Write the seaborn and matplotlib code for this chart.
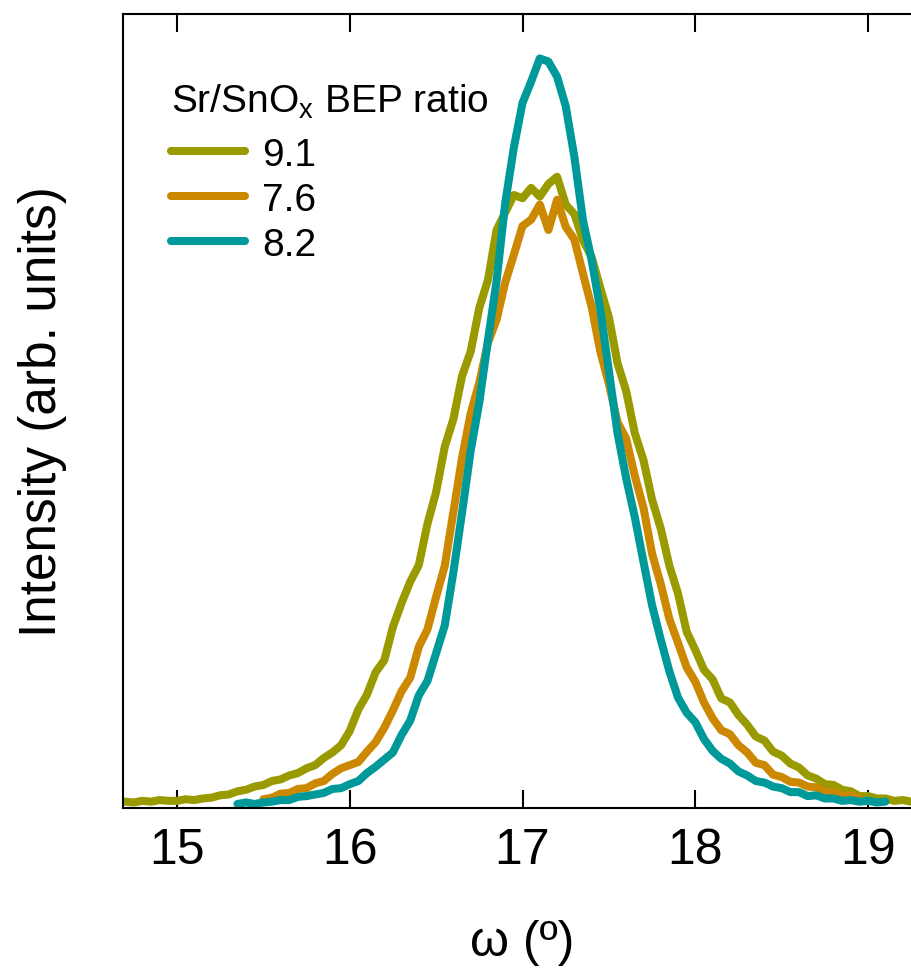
import numpy as np
import pandas as pd
import matplotlib
matplotlib.use("Agg")
import matplotlib.pyplot as plt
import seaborn as sns

# rocking curve scan grid (deg)
omega = [14.70, 14.75, 14.80, 14.85, 14.90, 14.95,
         15.00, 15.05, 15.10, 15.15, 15.20, 15.25, 15.30, 15.35, 15.40, 15.45,
         15.50, 15.55, 15.60, 15.65, 15.70, 15.75, 15.80, 15.85, 15.90, 15.95,
         16.00, 16.05, 16.10, 16.15, 16.20, 16.25, 16.30, 16.35, 16.40, 16.45,
         16.50, 16.55, 16.60, 16.65, 16.70, 16.75, 16.80, 16.85, 16.90, 16.95,
         17.00, 17.05, 17.10, 17.15, 17.20, 17.25, 17.30, 17.35, 17.40, 17.45,
         17.50, 17.55, 17.60, 17.65, 17.70, 17.75, 17.80, 17.85, 17.90, 17.95,
         18.00, 18.05, 18.10, 18.15, 18.20, 18.25, 18.30, 18.35, 18.40, 18.45,
         18.50, 18.55, 18.60, 18.65, 18.70, 18.75, 18.80, 18.85, 18.90, 18.95,
         19.00, 19.05, 19.10, 19.15, 19.20, 19.25, 19.30]

# intensities (arb. units), None = outside that scan
int_91 = [8, 7, 9, 8, 10, 9,
          9, 11, 10, 12, 13, 16, 17, 21, 23, 27,
          29, 34, 36, 41, 44, 50, 54, 63, 70, 79,
          97, 124, 143, 171, 186, 228, 258, 285, 306, 358,
          398, 455, 490, 544, 575, 630, 665, 728, 750, 772,
          768, 781, 770, 786, 795, 760, 748, 715, 694, 655,
          618, 560, 525, 472, 438, 388, 352, 305, 270, 222,
          199, 174, 162, 138, 133, 117, 105, 90, 85, 71,
          66, 56, 51, 41, 37, 30, 29, 23, 21, 15,
          15, 12, 12, 9, 10, 8, 9]

int_76 = [None, None, None, None, None, None,
          None, None, None, None, None, None, None, None, None, None,
          11, 13, 18, 19, 24, 25, 31, 34, 43, 50,
          54, 58, 71, 83, 101, 123, 147, 164, 203, 225,
          266, 305, 373, 441, 497, 536, 586, 615, 662, 697,
          733, 741, 760, 728, 766, 732, 716, 673, 631, 575,
          534, 486, 465, 418, 378, 320, 282, 238, 208, 177,
          159, 133, 113, 98, 93, 79, 70, 57, 54, 42,
          39, 33, 32, 27, 26, 20, 20, 15, 16, 12,
          None, None, None, None, None, None, None]

int_82 = [None, None, None, None, None, None,
          None, None, None, None, None, None, None, 5, 7, 5,
          7, 8, 10, 10, 14, 15, 17, 19, 24, 25,
          30, 34, 44, 52, 61, 70, 92, 110, 142, 160,
          195, 230, 297, 372, 450, 511, 589, 664, 762, 832,
          888, 915, 944, 940, 921, 884, 820, 740, 690, 628,
          550, 472, 415, 366, 310, 255, 212, 172, 139, 120,
          108, 87, 72, 62, 56, 46, 41, 34, 32, 27,
          25, 20, 20, 15, 16, 12, 12, 9, 10, 8,
          9, 7, 8, None, None, None, None]

ratios = ["9.1", "7.6", "8.2"]
colors = ["#999900", "#CC8800", "#009999"]

frames = []
for r, vals in zip(ratios, [int_91, int_76, int_82]):
    frames.append(pd.DataFrame({"omega": omega, "intensity": vals, "ratio": r}))
df = pd.concat(frames).dropna()
df["intensity"] = df["intensity"].astype(float)

sns.set_style("ticks")
plt.rcParams["font.family"] = ["Liberation Sans", "DejaVu Sans"]
plt.rcParams["mathtext.default"] = "regular"
plt.rcParams["text.color"] = "black"
plt.rcParams["axes.labelcolor"] = "black"
plt.rcParams["axes.edgecolor"] = "black"
plt.rcParams["xtick.color"] = "black"

fig = plt.figure(figsize=(9.12, 9.7), dpi=100)
ax = fig.add_axes([123 / 912, 161 / 970, 798 / 912, 794 / 970])

sns.lineplot(data=df, x="omega", y="intensity", hue="ratio", hue_order=ratios,
             palette=colors, linewidth=5.8, estimator=None, ax=ax)

ax.set_xlim(14.688, 19.306)
ax.set_ylim(0, 1000)
ax.set_xticks([15, 16, 17, 18, 19])
ax.set_yticks([])
ax.tick_params(axis="x", direction="in", top=True, length=13, width=1.5,
               labelsize=36, pad=14)
for s in ax.spines.values():
    s.set_linewidth(1.5)
ax.spines["right"].set_visible(False)

ax.set_xlabel("ω (º)", fontsize=36, labelpad=33)
ax.set_ylabel("Intensity (arb. units)", fontsize=37, labelpad=40)

handles, labels = ax.get_legend_handles_labels()
leg = ax.legend(handles, labels, title="Sr/SnO$_x$ BEP ratio", loc="upper left",
                bbox_to_anchor=(48 / 798, 1 - 68 / 794), frameon=False,
                fontsize=28, title_fontsize=28, alignment="left",
                handlelength=1.9, handletextpad=0.45, labelspacing=0.23,
                borderpad=0, borderaxespad=0)
leg._legend_box.sep = 12

fig.savefig("out.png", dpi=100)
